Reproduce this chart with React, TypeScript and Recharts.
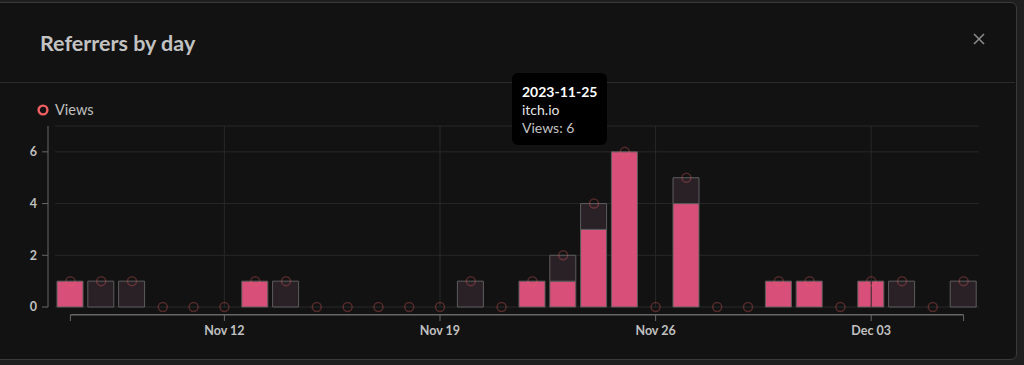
import React from 'react';
import {
  ComposedChart,
  Bar,
  Line,
  XAxis,
  YAxis,
  CartesianGrid,
  ReferenceLine,
  Tooltip,
  Legend,
} from 'recharts';

const dates = [
  '2023-11-07', '2023-11-08', '2023-11-09', '2023-11-10', '2023-11-11', '2023-11-12',
  '2023-11-13', '2023-11-14', '2023-11-15', '2023-11-16', '2023-11-17', '2023-11-18',
  '2023-11-19', '2023-11-20', '2023-11-21', '2023-11-22', '2023-11-23', '2023-11-24',
  '2023-11-25', '2023-11-26', '2023-11-27', '2023-11-28', '2023-11-29', '2023-11-30',
  '2023-12-01', '2023-12-02', '2023-12-03', '2023-12-04', '2023-12-05', '2023-12-06',
];
const itchViews = [1, 0, 0, 0, 0, 0, 1, 0, 0, 0, 0, 0, 0, 0, 0, 1, 1, 3, 6, 0, 4, 0, 0, 1, 1, 0, 1, 0, 0, 0];
const otherViews = [0, 1, 1, 0, 0, 0, 0, 1, 0, 0, 0, 0, 0, 1, 0, 0, 1, 1, 0, 0, 1, 0, 0, 0, 0, 0, 0, 1, 0, 1];
const totalViews = [1, 1, 1, 0, 0, 0, 1, 1, 0, 0, 0, 0, 0, 1, 0, 1, 2, 4, 6, 0, 5, 0, 0, 1, 1, 0, 1, 1, 0, 1];
const weekTicks = ['2023-11-12', '2023-11-19', '2023-11-26', '2023-12-03'];
const weekLabels = ['Nov 12', 'Nov 19', 'Nov 26', 'Dec 03'];
const yTicks = [0, 2, 4, 6];
const seriesNames = { itch: 'itch.io', other: 'Other' };
const tooltipIndex = 18;

const data = dates.map((d, i) => ({
  date: d,
  itch: itchViews[i],
  other: otherViews[i],
  views: totalViews[i],
}));

const PINK = '#d8507a';
const DARK = '#2a2127';
const BAR_STROKE = '#5c5c5c';
const GRID = '#282828';
const AXIS = '#676767';
const FONT = 'Lato, "Noto Sans", sans-serif';

const XTick = (props: any) => {
  const { x, y, payload, index } = props;
  const v = payload.value;
  const li = weekTicks.indexOf(v);
  const isEnd = index === 0 || v === dates[dates.length - 1];
  if (li < 0 && !isEnd) return <g />;
  return (
    <g>
      <line x1={x} x2={x} y1={y + 8} y2={y + 14} stroke={AXIS} strokeWidth={1} />
      {li >= 0 && (
        <text
          x={x}
          y={y + 23}
          textAnchor="middle"
          dominantBaseline="central"
          fill="#c0c0c0"
          fontSize={12.5}
          fontWeight={700}
          fontFamily={FONT}
        >
          {weekLabels[li]}
        </text>
      )}
    </g>
  );
};

const renderHGrid = (p: any) => (
  <line
    key={p.key}
    x1={p.x1 + 7}
    x2={p.x2}
    y1={p.y1}
    y2={p.y2}
    stroke={GRID}
    strokeWidth={1}
  />
);

const renderLegend = (props: any) => {
  const items = (props.payload || []).filter((p: any) => p.dataKey === 'views');
  return (
    <div style={{ height: 20, lineHeight: '20px', display: 'flex', alignItems: 'center', fontFamily: FONT }}>
      {items.map((it: any) => (
        <div key={it.value} style={{ display: 'flex', alignItems: 'center' }}>
          <svg width={12} height={12} style={{ marginRight: 6 }}>
            <circle cx={6} cy={6} r={4.4} fill="none" stroke="#ef5f62" strokeWidth={2.4} />
          </svg>
          <span style={{ color: '#c0c0c0', fontSize: 14.5 }}>{it.value}</span>
        </div>
      ))}
    </div>
  );
};

const renderTooltip = (props: any) => {
  const { active, payload, label } = props;
  if (!active || !payload || !payload.length) return null;
  const items = payload.filter((p: any) => p.dataKey !== 'views' && Number(p.value) > 0);
  return (
    <div
      style={{
        background: '#000',
        borderRadius: 6,
        padding: '10px 10px 8px 10px',
        fontFamily: FONT,
        fontSize: 14,
        lineHeight: '18px',
        whiteSpace: 'nowrap',
      }}
    >
      <div style={{ color: '#fff', fontWeight: 700 }}>{label}</div>
      {items.map((it: any) => (
        <div key={it.dataKey}>
          <div style={{ color: '#e4e4e4' }}>{it.name}</div>
          <div style={{ color: '#c4c4c4' }}>Views: {it.value}</div>
        </div>
      ))}
    </div>
  );
};

export default function App() {
  return (
    <div style={{ position: 'relative', width: 1024, height: 365, background: '#1f1f1f', overflow: 'hidden' }}>
      <style>{`body{margin:0;background:#1f1f1f;}`}</style>
      <div
        style={{
          position: 'absolute',
          left: -10,
          top: 2,
          width: 1025,
          height: 356,
          background: '#121212',
          border: '1px solid #3a3a3a',
          borderRadius: 6,
        }}
      />
      <div
        style={{
          position: 'absolute',
          left: 40,
          top: 28,
          fontFamily: FONT,
          fontWeight: 700,
          fontSize: 21.5,
          lineHeight: '30px',
          color: '#c2c2c2',
        }}
      >
        Referrers by day
      </div>
      <svg style={{ position: 'absolute', left: 973, top: 33 }} width={12} height={12}>
        <line x1={1} y1={1} x2={11} y2={11} stroke="#8a8a8a" strokeWidth={1.6} />
        <line x1={11} y1={1} x2={1} y2={11} stroke="#8a8a8a" strokeWidth={1.6} />
      </svg>
      <div style={{ position: 'absolute', left: 0, top: 82, width: 1015, height: 1, background: '#2a2a2a' }} />
      <div style={{ position: 'absolute', left: 0, top: 100 }}>
        <ComposedChart
          width={1000}
          height={250}
          data={data}
          margin={{ top: 6, right: 21, bottom: 3, left: 8 }}
          barCategoryGap={0}
        >
          <CartesianGrid vertical={false} horizontal={renderHGrid} />
          {weekTicks.map((t) => (
            <ReferenceLine key={t} x={t} stroke={GRID} strokeWidth={1} />
          ))}
          <XAxis
            dataKey="date"
            interval={0}
            padding={{ left: 7, right: 0 }}
            axisLine={false}
            tickLine={false}
            tickSize={0}
            tickMargin={0}
            height={40}
            tick={<XTick />}
          />
          <YAxis
            width={40}
            domain={[0, 7]}
            ticks={yTicks}
            tickSize={6}
            tickMargin={5}
            stroke={AXIS}
            axisLine={{ stroke: AXIS }}
            tickLine={{ stroke: AXIS }}
            tick={{ fill: '#c0c0c0', fontSize: 12.5, fontWeight: 700, fontFamily: FONT }}
            allowDecimals={false}
          />
          <ReferenceLine
            segment={[
              { x: dates[0], y: -0.3 },
              { x: dates[dates.length - 1], y: -0.3 },
            ]}
            stroke={AXIS}
            strokeWidth={1.5}
            ifOverflow="visible"
          />
          <Legend
            verticalAlign="top"
            align="left"
            content={renderLegend}
            wrapperStyle={{ top: 0, left: 37, height: 20 }}
          />
          <Bar
            dataKey="itch"
            name={seriesNames.itch}
            stackId="a"
            fill={PINK}
            stroke={BAR_STROKE}
            strokeWidth={1}
            barSize={26}
            legendType="none"
            isAnimationActive={false}
          />
          <Bar
            dataKey="other"
            name={seriesNames.other}
            stackId="a"
            fill={DARK}
            stroke={BAR_STROKE}
            strokeWidth={1}
            barSize={26}
            legendType="none"
            isAnimationActive={false}
          />
          <Line
            dataKey="views"
            name="Views"
            stroke="none"
            fill="none"
            dot={{ r: 4.5, fill: 'none', stroke: '#ef5f62', strokeOpacity: 0.3, strokeWidth: 1.5 }}
            activeDot={false}
            legendType="circle"
            isAnimationActive={false}
          />
          <Tooltip
            defaultIndex={tooltipIndex}
            cursor={false}
            position={{ x: 512, y: -27 }}
            content={renderTooltip}
            isAnimationActive={false}
            wrapperStyle={{ outline: 'none', zIndex: 10 }}
          />
        </ComposedChart>
      </div>
    </div>
  );
}
